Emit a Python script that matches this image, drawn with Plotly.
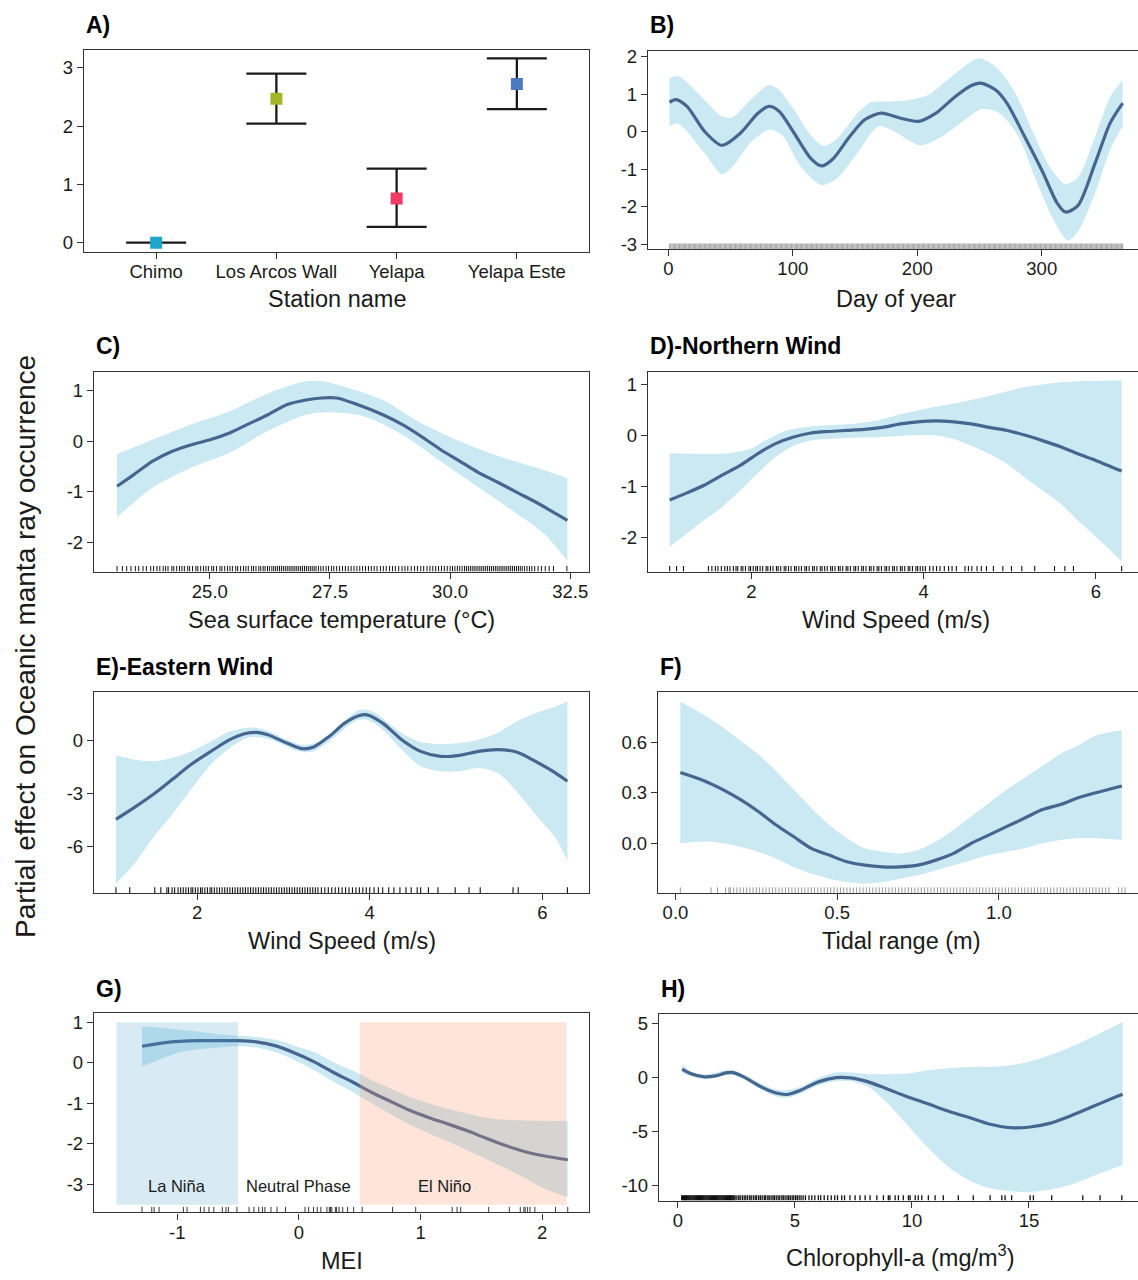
import plotly.graph_objects as go

W, H = 1138, 1280
FONT = "Liberation Sans, Arial, sans-serif"

# ---------------- DATA ----------------
# A) station effects
stations = ["Chimo", "Los Arcos Wall", "Yelapa", "Yelapa Este"]
station_est = [0.0, 2.47, 0.76, 2.72]
station_lo = [0.0, 2.04, 0.27, 2.29]
station_hi = [0.0, 2.90, 1.27, 3.16]
station_colors = ["#1fa6cc", "#a4b627", "#f23b63", "#4a7bc0"]

# B) day of year
doy_x = [1, 6, 15, 29, 43, 58, 72, 81, 89, 101, 115, 123, 132, 146, 158, 171, 186, 201, 215, 229,
         243, 251, 263, 272, 286, 301, 312, 319, 329, 343, 355, 365]
doy_y = [0.79, 0.86, 0.68, 0.02, -0.36, -0.03, 0.5, 0.68, 0.55, -0.03, -0.73, -0.91, -0.73, -0.11,
         0.33, 0.5, 0.37, 0.28, 0.5, 0.9, 1.23, 1.3, 1.12, 0.77, -0.11, -1.09, -1.88, -2.14, -1.97,
         -0.82, 0.24, 0.77]
doy_up_x = [1, 8, 29, 43, 52, 66, 81, 89, 101, 115, 125, 135, 152, 163, 178, 195, 209, 229, 249,
            263, 278, 292, 306, 319, 329, 343, 355, 365]
doy_up_y = [1.43, 1.49, 0.86, 0.41, 0.40, 0.86, 1.25, 1.12, 0.59, -0.11, -0.38, -0.2, 0.5, 0.79,
            0.81, 0.86, 0.99, 1.52, 1.96, 1.74, 1.08, 0.06, -0.91, -1.39, -1.22, -0.11, 0.94, 1.39]
doy_lo_x = [1, 8, 29, 43, 52, 66, 81, 92, 106, 123, 135, 152, 169, 181, 203, 218, 235, 252, 266,
            281, 295, 309, 321, 329, 343, 355, 365]
doy_lo_y = [0.15, 0.22, -0.56, -1.13, -0.91, -0.29, 0.06, -0.11, -0.91, -1.42, -1.26, -0.56, 0.15,
            0.02, -0.36, -0.16, 0.24, 0.61, 0.5, -0.11, -1.26, -2.32, -2.9, -2.67, -1.62, -0.47, 0.15]
doy_rug = list(range(1, 366))  # observations on every day of the year

# C) sea surface temperature
sst_x = [23.07, 23.42, 23.82, 24.22, 24.62, 25.02, 25.41, 25.81, 26.21, 26.61, 27.0, 27.32, 27.64,
         28.04, 28.6, 29.0, 29.39, 29.79, 30.19, 30.59, 30.99, 31.39, 31.78, 32.18, 32.44]
sst_y = [-0.89, -0.66, -0.39, -0.2, -0.07, 0.03, 0.16, 0.34, 0.52, 0.72, 0.81, 0.85, 0.85, 0.73,
         0.52, 0.33, 0.1, -0.16, -0.39, -0.62, -0.81, -1.01, -1.2, -1.42, -1.56]
sst_up_x = [23.07, 23.82, 24.62, 25.41, 26.21, 27.0, 27.4, 27.8, 28.6, 29.39, 30.19, 30.99, 31.78, 32.44]
sst_up_y = [-0.26, 0.03, 0.33, 0.59, 0.94, 1.18, 1.17, 1.07, 0.81, 0.36, 0.0, -0.29, -0.52, -0.73]
sst_lo_x = [23.07, 23.82, 24.62, 25.41, 26.21, 27.0, 27.48, 28.2, 29.0, 29.79, 30.59, 31.39, 31.95, 32.44]
sst_lo_y = [-1.5, -0.91, -0.52, -0.23, 0.2, 0.52, 0.57, 0.49, 0.13, -0.39, -0.91, -1.43, -1.82, -2.36]
sst_rug = [23.07, 23.18, 23.27, 23.36, 23.45, 23.52, 23.61, 23.68, 23.77, 23.83, 23.9, 23.96, 24.03,
           24.08, 24.13, 24.21, 24.25, 24.31, 24.37, 24.42, 24.47, 24.54, 24.58, 24.64, 24.71, 24.75,
           24.81, 24.87, 24.92, 24.97, 25.04, 25.08, 25.14, 25.21, 25.25, 25.31, 25.37, 25.42, 25.47,
           25.54, 25.58, 25.64, 25.7, 25.75, 25.8, 25.87, 25.91, 25.96, 26.02, 26.06, 26.11, 26.15,
           26.2, 26.24, 26.29, 26.33, 26.37, 26.41, 26.45, 26.49, 26.53, 26.57, 26.61, 26.65, 26.69,
           26.73, 26.77, 26.81, 26.85, 26.89, 26.93, 26.97, 27.01, 27.05, 27.09, 27.13, 27.17, 27.21,
           27.26, 27.31, 27.36, 27.42, 27.47, 27.53, 27.58, 27.64, 27.7, 27.76, 27.82, 27.88, 27.94,
           28.0, 28.06, 28.12, 28.18, 28.24, 28.3, 28.36, 28.42, 28.48, 28.55, 28.61, 28.67, 28.74,
           28.8, 28.86, 28.93, 29.0, 29.06, 29.12, 29.19, 29.26, 29.32, 29.39, 29.45, 29.52, 29.58,
           29.64, 29.7, 29.76, 29.82, 29.88, 29.94, 30.0, 30.05, 30.1, 30.15, 30.2, 30.25, 30.3, 30.34,
           30.38, 30.42, 30.46, 30.5, 30.54, 30.58, 30.62, 30.66, 30.7, 30.74, 30.78, 30.82, 30.86,
           30.9, 30.94, 30.98, 31.02, 31.06, 31.1, 31.14, 31.18, 31.22, 31.26, 31.3, 31.34, 31.38,
           31.42, 31.46, 31.5, 31.55, 31.6, 31.65, 31.7, 31.76, 31.83, 31.9, 31.98, 32.06, 32.15, 32.43]

# D) northern wind speed
nw_x = [1.05, 1.25, 1.45, 1.66, 1.87, 2.07, 2.28, 2.49, 2.69, 2.9, 3.11, 3.31, 3.52, 3.73, 3.93,
        4.14, 4.35, 4.55, 4.76, 4.97, 5.17, 5.38, 5.59, 5.79, 6.0, 6.3]
nw_y = [-1.27, -1.13, -0.98, -0.78, -0.59, -0.36, -0.16, -0.03, 0.05, 0.08, 0.1, 0.12, 0.16, 0.23,
        0.27, 0.29, 0.27, 0.23, 0.16, 0.1, 0.01, -0.1, -0.22, -0.36, -0.49, -0.7]
nw_up_x = [1.05, 1.45, 1.74, 1.99, 2.16, 2.41, 2.69, 3.11, 3.44, 3.73, 4.06, 4.35, 4.76, 5.17, 5.59, 6.0, 6.3]
nw_up_y = [-0.35, -0.36, -0.35, -0.26, -0.1, 0.1, 0.18, 0.22, 0.29, 0.42, 0.54, 0.63, 0.78, 0.95,
           1.05, 1.08, 1.09]
nw_lo_x = [1.05, 1.25, 1.45, 1.66, 1.87, 2.07, 2.28, 2.49, 2.69, 3.11, 3.52, 3.93, 4.14, 4.35, 4.55,
           4.76, 4.97, 5.17, 5.38, 5.59, 5.79, 6.0, 6.3]
nw_lo_y = [-2.19, -1.93, -1.67, -1.41, -1.08, -0.75, -0.42, -0.2, -0.1, -0.05, -0.03, 0.01, 0.0,
           -0.07, -0.2, -0.36, -0.56, -0.82, -1.08, -1.34, -1.67, -1.99, -2.48]
nw_rug = [1.05, 1.13, 1.21, 1.5, 1.54, 1.58, 1.61, 1.65, 1.69, 1.72, 1.75, 1.79, 1.82, 1.84, 1.88,
          1.9, 1.93, 1.97, 1.99, 2.02, 2.05, 2.07, 2.1, 2.13, 2.17, 2.19, 2.22, 2.25, 2.29, 2.31,
          2.34, 2.38, 2.4, 2.43, 2.46, 2.5, 2.52, 2.55, 2.58, 2.62, 2.64, 2.67, 2.71, 2.73, 2.76,
          2.8, 2.82, 2.85, 2.88, 2.92, 2.94, 2.97, 3.01, 3.03, 3.06, 3.1, 3.12, 3.15, 3.19, 3.21,
          3.24, 3.28, 3.3, 3.33, 3.37, 3.39, 3.42, 3.46, 3.48, 3.51, 3.55, 3.57, 3.6, 3.64, 3.66,
          3.69, 3.73, 3.75, 3.78, 3.82, 3.84, 3.87, 3.91, 3.93, 3.96, 3.99, 4.02, 4.07, 4.11, 4.15,
          4.19, 4.24, 4.29, 4.33, 4.38, 4.48, 4.52, 4.56, 4.62, 4.67, 4.73, 4.81, 4.92, 5.02, 5.14,
          5.29, 5.52, 5.64, 5.74, 6.3]

# E) eastern wind speed
ew_x = [1.06, 1.27, 1.49, 1.71, 1.93, 2.16, 2.38, 2.55, 2.69, 2.82, 3.04, 3.22, 3.35, 3.53, 3.71,
        3.88, 3.97, 4.15, 4.37, 4.59, 4.82, 5.04, 5.26, 5.48, 5.70, 5.92, 6.15, 6.29]
ew_y = [-4.45, -3.79, -3.05, -2.21, -1.36, -0.62, 0.04, 0.37, 0.45, 0.32, -0.15, -0.47, -0.37,
        0.22, 0.97, 1.4, 1.44, 0.97, 0.04, -0.62, -0.9, -0.84, -0.62, -0.52, -0.65, -1.18, -1.83, -2.3]
ew_up_x = [1.06, 1.27, 1.49, 1.71, 1.93, 2.16, 2.38, 2.64, 2.82, 3.04, 3.22, 3.4, 3.62, 3.88, 4.02,
           4.15, 4.37, 4.59, 4.82, 5.04, 5.26, 5.48, 5.70, 5.92, 6.15, 6.29]
ew_up_y = [-0.84, -1.08, -1.18, -0.99, -0.62, -0.06, 0.5, 0.73, 0.54, 0.04, -0.24, -0.11, 0.69,
           1.72, 1.66, 1.25, 0.41, -0.09, -0.21, -0.15, 0.04, 0.41, 1.07, 1.53, 1.91, 2.19]
ew_lo_x = [1.06, 1.27, 1.49, 1.71, 1.93, 2.16, 2.38, 2.6, 2.73, 2.91, 3.18, 3.35, 3.58, 3.84, 3.97,
           4.15, 4.37, 4.59, 4.82, 5.04, 5.26, 5.48, 5.70, 5.92, 6.15, 6.29]
ew_lo_y = [-8.09, -6.97, -5.48, -4.17, -2.77, -1.36, -0.43, 0.17, 0.17, -0.06, -0.62, -0.62, 0.13,
           1.1, 1.16, 0.6, -0.52, -1.46, -1.74, -1.74, -1.55, -1.83, -2.86, -4.17, -5.48, -6.79]
ew_rug = [1.06, 1.22, 1.51, 1.58, 1.65, 1.67, 1.71, 1.74, 1.78, 1.81, 1.84, 1.87, 1.9, 1.93, 1.95,
          1.98, 2.01, 2.04, 2.06, 2.09, 2.12, 2.15, 2.17, 2.2, 2.23, 2.26, 2.29, 2.32, 2.35, 2.38,
          2.41, 2.44, 2.47, 2.5, 2.53, 2.56, 2.59, 2.62, 2.65, 2.68, 2.71, 2.74, 2.77, 2.8, 2.83,
          2.86, 2.89, 2.92, 2.95, 2.98, 3.01, 3.04, 3.07, 3.1, 3.13, 3.16, 3.19, 3.22, 3.25, 3.28,
          3.31, 3.34, 3.37, 3.4, 3.44, 3.48, 3.52, 3.56, 3.6, 3.64, 3.68, 3.72, 3.76, 3.8, 3.84,
          3.88, 3.92, 3.96, 4.0, 4.05, 4.1, 4.15, 4.22, 4.28, 4.35, 4.42, 4.48, 4.55, 4.59, 4.68,
          4.79, 4.99, 5.15, 5.28, 5.66, 5.72, 6.29]

# F) tidal range
tide_x = [0.015, 0.09, 0.145, 0.2, 0.255, 0.31, 0.365, 0.42, 0.475, 0.53, 0.585, 0.64, 0.695, 0.75,
          0.805, 0.86, 0.915, 0.97, 1.025, 1.08, 1.135, 1.19, 1.245, 1.3, 1.38]
tide_y = [0.42, 0.37, 0.32, 0.26, 0.19, 0.11, 0.04, -0.03, -0.07, -0.11, -0.13, -0.14, -0.14, -0.13,
          -0.10, -0.06, 0.0, 0.05, 0.10, 0.15, 0.2, 0.23, 0.27, 0.3, 0.34]
tide_up_y = [0.84, 0.76, 0.69, 0.61, 0.53, 0.43, 0.32, 0.21, 0.11, 0.03, -0.03, -0.05, -0.06, -0.04,
             0.01, 0.08, 0.16, 0.24, 0.32, 0.39, 0.46, 0.53, 0.58, 0.64, 0.67]
tide_lo_y = [0.0, 0.01, 0.0, -0.02, -0.05, -0.09, -0.14, -0.18, -0.21, -0.23, -0.24, -0.23, -0.21,
             -0.19, -0.16, -0.13, -0.10, -0.07, -0.05, -0.03, 0.0, 0.02, 0.03, 0.03, 0.02]
tide_rug = [0.015, 0.11, 0.13, 0.155, 0.165, 0.17, 0.18, 0.19, 0.2, 0.21, 0.22, 0.23, 0.24, 0.25,
            0.26, 0.27, 0.28, 0.29, 0.3, 0.31, 0.32, 0.33, 0.34, 0.35, 0.36, 0.37, 0.38, 0.39, 0.4,
            0.41, 0.42, 0.43, 0.44, 0.45, 0.46, 0.47, 0.48, 0.49, 0.5, 0.51, 0.52, 0.53, 0.54, 0.55,
            0.56, 0.57, 0.58, 0.59, 0.6, 0.61, 0.62, 0.63, 0.64, 0.65, 0.66, 0.67, 0.68, 0.69, 0.7,
            0.71, 0.72, 0.73, 0.74, 0.75, 0.76, 0.77, 0.78, 0.79, 0.8, 0.81, 0.82, 0.83, 0.84, 0.85,
            0.86, 0.87, 0.88, 0.89, 0.9, 0.91, 0.92, 0.93, 0.94, 0.95, 0.96, 0.97, 0.98, 0.99, 1.0,
            1.01, 1.02, 1.03, 1.04, 1.05, 1.06, 1.07, 1.08, 1.09, 1.1, 1.11, 1.12, 1.13, 1.14, 1.15,
            1.16, 1.17, 1.18, 1.19, 1.2, 1.21, 1.22, 1.23, 1.24, 1.25, 1.26, 1.27, 1.28, 1.29, 1.3,
            1.31, 1.32, 1.33, 1.34, 1.37, 1.38, 1.39]

# G) MEI
mei_x = [-1.29, -1.13, -0.98, -0.82, -0.66, -0.5, -0.35, -0.19, -0.03, 0.13, 0.28, 0.44, 0.6, 0.76,
         0.91, 1.07, 1.23, 1.38, 1.54, 1.7, 1.86, 2.01, 2.21]
mei_y = [0.41, 0.49, 0.53, 0.55, 0.55, 0.55, 0.52, 0.42, 0.24, 0.02, -0.23, -0.47, -0.73, -0.96,
         -1.17, -1.35, -1.51, -1.67, -1.86, -2.04, -2.19, -2.29, -2.39]
mei_up_y = [0.9, 0.87, 0.82, 0.77, 0.71, 0.67, 0.64, 0.57, 0.42, 0.26, 0.02, -0.19, -0.43, -0.64,
            -0.84, -1.0, -1.14, -1.25, -1.35, -1.4, -1.42, -1.43, -1.43]
mei_lo_y = [-0.09, 0.1, 0.26, 0.34, 0.38, 0.41, 0.38, 0.26, 0.06, -0.19, -0.46, -0.72, -1.0, -1.27,
            -1.52, -1.74, -1.94, -2.15, -2.37, -2.6, -2.84, -3.09, -3.31]
mei_rug = [-1.29, -1.21, -1.19, -1.15, -0.95, -0.92, -0.81, -0.78, -0.74, -0.7, -0.63, -0.6, -0.58,
           -0.51, -0.41, -0.37, -0.33, -0.3, -0.28, -0.23, -0.18, -0.11, 0.05, 0.08, 0.12, 0.15,
           0.18, 0.23, 0.25, 0.26, 0.27, 0.3, 0.31, 0.33, 0.36, 0.4, 0.45, 0.52, 0.77, 0.96, 1.26,
           1.3, 1.33, 1.56, 1.73, 1.82, 1.85, 1.86, 1.88, 1.9, 1.94, 2.11, 2.21]
enso_phase = ["La Niña", "Neutral Phase", "El Niño"]
enso_label_x = [-1.0, 0.0, 1.2]
enso_label_y = -3.03
enso_shade_phase = ["La Niña", "El Niño"]
enso_shade_xmin = [-1.5, 0.5]
enso_shade_xmax = [-0.5, 2.2]
enso_shade_ymin = -3.5
enso_shade_ymax = 1.0
enso_shade_colors = ["rgba(70,160,210,0.21)", "rgba(250,150,110,0.26)"]

# H) chlorophyll-a
chl_x = [0.18, 0.53, 1.14, 1.6, 2.05, 2.36, 2.81, 3.42, 4.03, 4.64, 5.24, 6.0, 6.76, 7.37, 8.13,
         8.89, 9.8, 10.71, 11.63, 12.54, 13.3, 14.21, 14.97, 15.88, 16.79, 17.7, 18.62, 19.0]
chl_y = [0.8, 0.4, 0.09, 0.18, 0.46, 0.49, 0.09, -0.68, -1.29, -1.54, -1.14, -0.37, 0.03, 0.0,
         -0.37, -0.98, -1.75, -2.43, -3.14, -3.75, -4.28, -4.62, -4.58, -4.22, -3.51, -2.68, -1.85, -1.51]
chl_band_x = [0.18, 0.53, 1.14, 2.05, 2.36, 2.81, 4.03, 4.64, 5.24, 6.0, 6.76, 7.37, 8.13, 8.89,
              9.8, 10.71, 11.63, 12.54, 13.3, 14.21, 14.97, 15.88, 16.79, 17.7, 18.62, 19.0]
chl_up_y = [1.23, 0.62, 0.31, 0.71, 0.71, 0.31, -0.98, -1.14, -0.83, 0.0, 0.49, 0.49, 0.34, 0.34,
            0.4, 0.71, 0.92, 1.02, 1.02, 1.17, 1.48, 2.09, 2.86, 3.78, 4.77, 5.17]
chl_lo_y = [0.4, 0.18, -0.12, 0.25, 0.25, -0.12, -1.6, -1.85, -1.45, -0.68, -0.31, -0.31, -0.83,
            -2.22, -4.37, -6.52, -8.37, -9.6, -10.22, -10.52, -10.58, -10.37, -9.91, -9.14, -8.37, -8.12]
chl_rug = [0.16, 0.2, 0.24, 0.28, 0.32, 0.36, 0.4, 0.44, 0.48, 0.52, 0.56, 0.6, 0.64, 0.68, 0.72,
           0.76, 0.8, 0.84, 0.88, 0.92, 0.96, 1.0, 1.04, 1.08, 1.12, 1.16, 1.2, 1.24, 1.28, 1.32,
           1.36, 1.4, 1.44, 1.48, 1.52, 1.56, 1.6, 1.64, 1.68, 1.72, 1.76, 1.8, 1.84, 1.88, 1.92,
           1.96, 2.0, 2.04, 2.08, 2.12, 2.16, 2.2, 2.24, 2.28, 2.32, 2.36, 2.4, 2.44, 2.52, 2.6,
           2.66, 2.75, 2.83, 2.9, 2.98, 3.07, 3.13, 3.22, 3.3, 3.36, 3.45, 3.52, 3.6, 3.69, 3.75,
           3.84, 3.9, 3.98, 4.06, 4.12, 4.2, 4.28, 4.35, 4.44, 4.5, 4.58, 4.66, 4.73, 4.8, 4.88,
           4.95, 5.03, 5.1, 5.18, 5.26, 5.35, 5.45, 5.6, 5.72, 5.85, 6.0, 6.1, 6.25, 6.4, 6.55, 6.7,
           6.82, 7.0, 7.12, 7.35, 7.57, 7.78, 8.0, 8.21, 8.5, 8.78, 8.99, 9.06, 9.28, 9.42, 9.63,
           9.85, 9.92, 10.14, 10.27, 10.42, 10.7, 10.99, 11.34, 11.98, 12.62, 13.34, 13.84, 13.98,
           14.26, 15.05, 15.19, 15.97, 17.3, 18.04, 18.97]

# ---------------- STYLE ----------------
RIBBON = "#cbe9f3"
LINE = "#44668f"
AXC = "#333333"
TXT = "#1a1a1a"


def frac_x(px):
    return px / W


def frac_y(py):
    return 1 - py / H


# panel boxes in pixels: (left, right, top, bottom)
panels = {
    1: dict(box=(84, 589, 46, 250), xr=[-0.6, 3.6], yr=[-0.16, 3.31], right=True,
            yt=[0, 1, 2, 3], yd=0, xt=None, xd=0, title="A)", ty=21,
            xtitle="Station name", xtc=336.5, xty=297),
    2: dict(box=(648, 1138, 47, 247), xr=[-16.3, 377.3], yr=[-3.13, 2.17], right=False,
            yt=[-3, -2, -1, 0, 1, 2], yd=0, xt=[0, 100, 200, 300], xd=0, title="B)", ty=21,
            xtitle="Day of year", xtc=896, xty=297),
    3: dict(box=(94, 589, 371, 572), xr=[22.59, 32.89], yr=[-2.57, 1.36], right=True,
            yt=[-2, -1, 0, 1], yd=0, xt=[25.0, 27.5, 30.0, 32.5], xd=1, title="C)", ty=345,
            xtitle="Sea surface temperature (°C)", xtc=341.5, xty=621),
    4: dict(box=(648, 1138, 371, 572), xr=[0.798, 6.49], yr=[-2.68, 1.25], right=False,
            yt=[-2, -1, 0, 1], yd=0, xt=[2, 4, 6], xd=0, title="D)-Northern Wind", ty=345,
            xtitle="Wind Speed (m/s)", xtc=896, xty=621),
    5: dict(box=(94, 589, 693, 896), xr=[0.806, 6.54], yr=[-8.6, 2.75], right=True,
            yt=[-6, -3, 0], yd=0, xt=[2, 4, 6], xd=0, title="E)-Eastern Wind", ty=668,
            xtitle="Wind Speed (m/s)", xtc=341.5, xty=944),
    6: dict(box=(658, 1138, 693, 896), xr=[-0.054, 1.43], yr=[-0.295, 0.9], right=False,
            yt=[0.0, 0.3, 0.6], yd=1, xt=[0.0, 0.5, 1.0], xd=1, title="F)", ty=668,
            xtitle="Tidal range (m)", xtc=901, xty=944),
    7: dict(box=(94, 589, 1017, 1218), xr=[-1.685, 2.385], yr=[-3.69, 1.23], right=True,
            yt=[-3, -2, -1, 0, 1], yd=0, xt=[-1, 0, 1, 2], xd=0, title="G)", ty=993,
            xtitle="MEI", xtc=341.5, xty=1267),
    8: dict(box=(659, 1138, 1018, 1206), xr=[-0.81, 19.66], yr=[-11.38, 5.92], right=False,
            yt=[-10, -5, 0, 5], yd=0, xt=[0, 5, 10, 15], xd=0, title="H)", ty=993,
            xtitle="Chlorophyll-a (mg/m<sup>3</sup>)", xtc=900, xty=1262),
}


def refs(i):
    return ("x" if i == 1 else f"x{i}"), ("y" if i == 1 else f"y{i}")


fig = go.Figure()


def add_smooth(i, lx, ly, ux, uy, lox, loy):
    xa, ya = refs(i)
    fig.add_trace(go.Scatter(x=lox, y=loy, mode="lines", line=dict(width=0, shape="spline", smoothing=0.8),
                             xaxis=xa, yaxis=ya, showlegend=False, hoverinfo="skip"))
    fig.add_trace(go.Scatter(x=ux, y=uy, mode="lines", fill="tonexty", fillcolor=RIBBON,
                             line=dict(width=0, shape="spline", smoothing=0.8),
                             xaxis=xa, yaxis=ya, showlegend=False, hoverinfo="skip"))
    fig.add_trace(go.Scatter(x=lx, y=ly, mode="lines", line=dict(color=LINE, width=3.2, shape="spline", smoothing=0.8),
                             xaxis=xa, yaxis=ya, showlegend=False))


def add_rug(i, vals, color="#111111", width=0.9, frac=0.028):
    xa, ya = refs(i)
    y0, y1 = panels[i]["yr"]
    top = y0 + frac * (y1 - y0)
    xs, ys = [], []
    for v in vals:
        xs += [v, v, None]
        ys += [y0, top, None]
    fig.add_trace(go.Scatter(x=xs, y=ys, mode="lines", line=dict(color=color, width=width),
                             xaxis=xa, yaxis=ya, showlegend=False, hoverinfo="skip"))


# A) station effects with error bars
fig.add_trace(go.Scatter(
    x=stations, y=station_est, mode="markers",
    marker=dict(symbol="square", size=12, color=station_colors),
    error_y=dict(type="data", symmetric=False,
                 array=[h - e for h, e in zip(station_hi, station_est)],
                 arrayminus=[e - l for e, l in zip(station_est, station_lo)],
                 color=TXT, thickness=2.3, width=30),
    xaxis="x", yaxis="y", showlegend=False))

add_smooth(2, doy_x, doy_y, doy_up_x, doy_up_y, doy_lo_x, doy_lo_y)
add_rug(2, doy_rug, color="#666666", width=0.6)

add_smooth(3, sst_x, sst_y, sst_up_x, sst_up_y, sst_lo_x, sst_lo_y)
add_rug(3, sst_rug, width=1.0)

add_smooth(4, nw_x, nw_y, nw_up_x, nw_up_y, nw_lo_x, nw_lo_y)
add_rug(4, nw_rug, width=1.1)

add_smooth(5, ew_x, ew_y, ew_up_x, ew_up_y, ew_lo_x, ew_lo_y)
add_rug(5, ew_rug, width=1.1)

add_smooth(6, tide_x, tide_y, tide_x, tide_up_y, tide_x, tide_lo_y)
add_rug(6, tide_rug, color="#555555", width=0.6)

add_smooth(7, mei_x, mei_y, mei_x, mei_up_y, mei_x, mei_lo_y)
add_rug(7, mei_rug, color="#222222", width=0.9)

add_smooth(8, chl_x, chl_y, chl_band_x, chl_up_y, chl_band_x, chl_lo_y)
add_rug(8, chl_rug, width=1.3)

# ENSO phase shading (drawn above the curve, semi-transparent)
shapes = []
for x0, x1, col in zip(enso_shade_xmin, enso_shade_xmax, enso_shade_colors):
    shapes.append(dict(type="rect", xref="x7", yref="y7", x0=x0, x1=x1,
                       y0=enso_shade_ymin, y1=enso_shade_ymax, fillcolor=col,
                       line=dict(width=0), layer="above"))

annotations = []
for name, lx in zip(enso_phase, enso_label_x):
    annotations.append(dict(text=name, x=lx, y=enso_label_y, xref="x7", yref="y7",
                            showarrow=False, font=dict(size=16.5, color=TXT, family=FONT)))


def fmt(v, d):
    return f"{v:.{d}f}"


layout = dict(width=W, height=H, margin=dict(l=0, r=0, t=0, b=0),
              paper_bgcolor="white", plot_bgcolor="white",
              font=dict(family=FONT, color=TXT), showlegend=False)

for i, p in panels.items():
    l, r, t, b = p["box"]
    xk = "xaxis" if i == 1 else f"xaxis{i}"
    yk = "yaxis" if i == 1 else f"yaxis{i}"
    xa, ya = refs(i)
    xaxis = dict(domain=[frac_x(l), frac_x(r)], range=p["xr"], anchor=ya,
                 showline=True, linecolor=AXC, linewidth=1.3, mirror=True,
                 ticks="outside", ticklen=6, tickwidth=1.3, tickcolor=AXC,
                 ticklabelstandoff=-3,
                 showgrid=False, zeroline=False,
                 tickfont=dict(size=18.5, color=TXT, family=FONT))
    if p["xt"] is not None:
        xaxis.update(tickmode="array", tickvals=p["xt"], ticktext=[fmt(v, p["xd"]) for v in p["xt"]])
    else:
        xaxis.update(type="category")
    yaxis = dict(domain=[frac_y(b), frac_y(t)], range=p["yr"], anchor=xa,
                 showline=True, linecolor=AXC, linewidth=1.3, mirror=p["right"],
                 ticks="outside", ticklen=6, tickwidth=1.3, tickcolor=AXC,
                 showgrid=False, zeroline=False,
                 tickmode="array", tickvals=p["yt"], ticktext=[fmt(v, p["yd"]) for v in p["yt"]],
                 tickfont=dict(size=18.5, color=TXT, family=FONT))
    layout[xk] = xaxis
    layout[yk] = yaxis
    annotations.append(dict(text=f"<b>{p['title']}</b>", x=frac_x(l), y=frac_y(p["ty"]),
                            xref="paper", yref="paper", xanchor="left", yanchor="middle",
                            showarrow=False, font=dict(size=23, color="#000000", family=FONT)))
    annotations.append(dict(text=p["xtitle"], x=frac_x(p["xtc"]), y=frac_y(p["xty"]),
                            xref="paper", yref="paper", xanchor="center", yanchor="middle",
                            showarrow=False, font=dict(size=23.5, color=TXT, family=FONT)))

annotations.append(dict(text="Partial effect on Oceanic manta ray occurrence",
                        x=frac_x(26), y=frac_y(648), xref="paper", yref="paper",
                        xanchor="center", yanchor="middle", textangle=-90, showarrow=False,
                        font=dict(size=28, color=TXT, family=FONT)))

layout["annotations"] = annotations
layout["shapes"] = shapes
fig.update_layout(**layout)

fig.write_html("out.html")
